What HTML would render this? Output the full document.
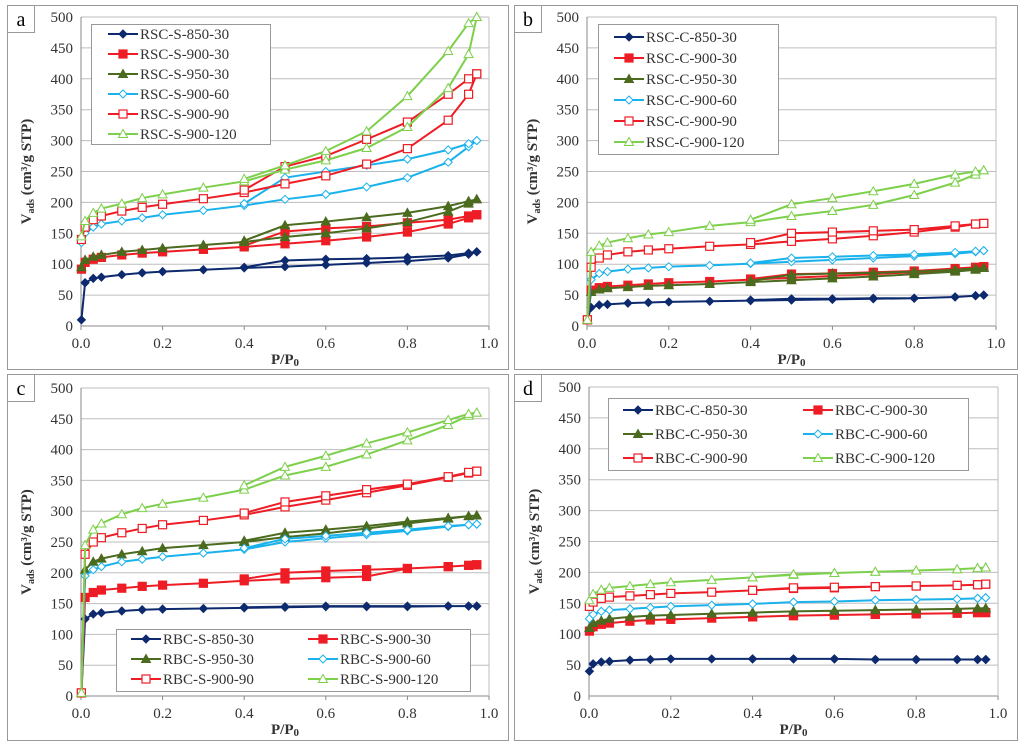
<!DOCTYPE html>
<html><head><meta charset="utf-8"><style>
body{margin:0;background:#fff;}
svg text{font-family:"Liberation Serif",serif;}
</style></head><body>
<svg id="fig" width="1024" height="747" xmlns="http://www.w3.org/2000/svg"></svg>
<script>
const xAds=[0.001,0.01,0.03,0.05,0.1,0.15,0.2,0.3,0.4,0.5,0.6,0.7,0.8,0.9,0.95,0.97];
const xDes=[0.97,0.95,0.9,0.8,0.7,0.6,0.5,0.4];
const yTicks=[0,50,100,150,200,250,300,350,400,450,500];
const xTicks=[0,0.2,0.4,0.6,0.8,1.0];
const xTickLabels=["0.0","0.2","0.4","0.6","0.8","1.0"];
const namesA=["RSC-S-850-30","RSC-S-900-30","RSC-S-950-30","RSC-S-900-60","RSC-S-900-90","RSC-S-900-120"];
const namesB=["RSC-C-850-30","RSC-C-900-30","RSC-C-950-30","RSC-C-900-60","RSC-C-900-90","RSC-C-900-120"];
const namesC=["RBC-S-850-30","RBC-S-900-30","RBC-S-950-30","RBC-S-900-60","RBC-S-900-90","RBC-S-900-120"];
const namesD=["RBC-C-850-30","RBC-C-900-30","RBC-C-950-30","RBC-C-900-60","RBC-C-900-90","RBC-C-900-120"];
const adsA=[[10,70,77,79,83,86,88,91,94,96,99,102,105,110,116,120],[92,103,108,111,115,118,120,124,128,133,138,144,152,165,175,180],[95,107,112,115,120,123,126,131,136,144,150,158,168,185,198,205],[135,150,160,165,170,175,180,187,195,205,213,225,240,265,290,300],[140,160,172,178,186,192,197,206,216,230,243,262,287,333,375,408],[145,170,183,190,198,207,213,224,234,253,268,288,322,385,440,500]];
const desA=[[120,118,114,111,109,108,106,95],[180,178,172,167,161,158,153,130],[205,202,194,183,176,169,163,138],[300,295,285,270,260,250,240,198],[408,400,375,330,302,275,258,220],[500,490,445,372,315,283,260,238]];
const adsB=[[10,30,34,35,37,38,39,40,41,42,43,44,45,47,49,50],[10,58,62,64,66,68,70,72,75,78,81,84,87,90,93,96],[10,55,59,61,63,65,66,68,71,74,77,80,84,88,91,94],[10,75,85,88,92,94,96,98,101,104,107,110,113,117,120,122],[10,95,110,115,120,123,125,129,132,137,141,146,152,160,165,166],[10,120,130,135,142,148,152,162,168,178,186,196,212,232,245,252]];
const desB=[[50,49,47,45,45,44,44,42],[96,95,93,89,87,85,84,76],[94,93,91,88,86,85,83,73],[122,121,119,116,114,112,110,102],[166,165,162,156,154,152,150,135],[252,250,245,230,218,207,197,172]];
const adsC=[[5,125,133,135,138,140,141,142,143,144,145,145,145,146,146,146],[5,160,168,172,175,178,180,183,187,190,192,194,207,210,212,213],[5,205,218,223,230,235,240,245,250,258,264,272,280,288,292,293],[5,195,205,210,218,222,226,232,238,250,256,262,268,275,278,279],[5,230,250,257,265,272,278,285,294,307,318,330,342,355,362,365],[5,245,270,280,295,305,312,322,335,358,372,392,415,440,455,460]];
const desC=[[146,146,146,146,146,146,145,144],[213,212,210,207,205,203,200,190],[293,292,289,283,276,270,265,252],[279,278,276,270,265,260,255,240],[365,363,356,344,335,325,315,297],[460,458,448,428,410,390,372,342]];
const adsD=[[40,52,55,56,58,59,60,60,60,60,60,59,59,59,59,59],[105,112,116,118,121,123,124,126,128,130,131,132,133,134,135,135],[110,118,122,125,128,130,131,133,135,137,138,139,140,141,142,142],[125,132,137,139,141,143,145,147,149,152,153,155,156,157,158,159],[145,152,158,160,162,164,166,168,171,174,175,177,178,179,180,181],[155,165,172,175,178,181,184,188,192,196,199,201,203,205,207,208]];
const desD=[[59,59,59,59,59,60,60,60],[135,135,134,133,132,131,130,128],[142,142,141,140,139,138,137,135],[159,158,157,156,155,153,152,149],[181,180,179,178,177,176,175,171],[208,207,205,203,201,199,197,192]];

const colors=["#0d2a6e","#ee1c24","#4b6b1f","#19b2ec","#ee1c24","#7dd04c"];
const markers=["diamondF","squareF","triF","diamondO","squareO","triO"];
const NS="http://www.w3.org/2000/svg";
const svg=document.getElementById('fig');
function mk(tag,attrs,parent){const e=document.createElementNS(NS,tag);for(const k in attrs)e.setAttribute(k,attrs[k]);(parent||svg).appendChild(e);return e;}
function marker(g,type,x,y,c){
  const f=type.endsWith('F')?c:'#fff';let e;
  if(type.startsWith('diamond'))e=mk('polygon',{points:`${x},${y-4} ${x+4},${y} ${x},${y+4} ${x-4},${y}`,fill:f,stroke:c,'stroke-width':1},g);
  else if(type.startsWith('square'))e=mk('rect',{x:x-4,y:y-4,width:8,height:8,fill:f,stroke:c,'stroke-width':1.2},g);
  else e=mk('polygon',{points:`${x},${y-4.5} ${x+4.5},${y+3.5} ${x-4.5},${y+3.5}`,fill:f,stroke:c,'stroke-width':1},g);
  
  
}
const panels=[
 {id:'a',box:[7,5,501,364],x0:81,x1:489,yT:17,yB:326,names:namesA,ads:adsA,des:desA,leg:{type:'col',box:[91,24,179,120],x:108,y:34,dy:20}},
 {id:'b',box:[514,5,503,364],x0:587,x1:996,yT:17,yB:326,names:namesB,ads:adsB,des:desB,leg:{type:'col',box:[598,24,180,130],x:614,y:37,dy:21}},
 {id:'c',box:[7,374,501,366],x0:81,x1:489,yT:388,yB:696,names:namesC,ads:adsC,des:desC,leg:{type:'grid',box:[116,629,354,62],x:131,x2:308,y:639,dy:20}},
 {id:'d',box:[514,374,503,366],x0:589,x1:998,yT:387,yB:696,names:namesD,ads:adsD,des:desD,leg:{type:'grid',box:[608,398,360,72],x:623,x2:803,y:410,dy:24}}
];
panels.forEach(p=>{
  const g=mk('g',{});
  
  
  const [bx,by,bw,bh]=p.box;
  mk('rect',{x:bx+0.5,y:by+0.5,width:bw,height:bh,fill:'#fff',stroke:'#999','stroke-width':1},g);
  const lb=mk('rect',{x:bx+0.5,y:by+0.5,width:27,height:27,fill:'#fff',stroke:'#999'},g);
  const lt=mk('text',{x:bx+14,y:by+21,'font-size':20,'text-anchor':'middle',fill:'#000'},g);lt.textContent=p.id;
  
  const sx=v=>p.x0+v*(p.x1-p.x0), sy=v=>p.yB-v/500*(p.yB-p.yT);
  yTicks.forEach(t=>{
    const l=mk('line',{x1:p.x0,x2:p.x1,y1:sy(t),y2:sy(t),stroke:t===0?'#888':'#bdbdbd','stroke-width':1},g);
    
    
    const tx=mk('text',{x:p.x0-8,y:sy(t)+5,'font-size':15,'text-anchor':'end',fill:'#333'},g);tx.textContent=t;
    
    
  });
  mk('line',{x1:p.x0,x2:p.x0,y1:p.yT,y2:p.yB,stroke:'#888'},g);
  mk('line',{x1:p.x1,x2:p.x1,y1:p.yT,y2:p.yB,stroke:'#bdbdbd'},g);
  xTicks.forEach((t,i)=>{
    mk('line',{x1:sx(t),x2:sx(t),y1:p.yB,y2:p.yB+4,stroke:'#888'},g);
    const tx=mk('text',{x:sx(t),y:p.yB+22,'font-size':15,'text-anchor':'middle',fill:'#333'},g);tx.textContent=xTickLabels[i];
    
    
  });
  const xt=mk('text',{x:(p.x0+p.x1)/2,y:p.yB+38,'font-size':15,'font-weight':'bold','text-anchor':'middle',fill:'#333'},g);
  xt.innerHTML='P/P<tspan font-size="11" dy="2">0</tspan>';
  
  const cy=(p.yT+p.yB)/2;
  const yt=mk('text',{x:0,y:0,transform:`translate(${p.x0-50},${cy}) rotate(-90)`,'font-size':15,'font-weight':'bold','text-anchor':'middle',fill:'#333'},g);
  yt.innerHTML='V<tspan font-size="10" dy="3">ads</tspan><tspan dy="-3"> (cm³/g STP)</tspan>';
  
  p.ads.forEach((arr,si)=>{
    const sg=mk('g',{},g);
    
    
    const pts=arr.map((v,i)=>[sx(xAds[i]),sy(v)]).concat(p.des[si].map((v,i)=>[sx(xDes[i]),sy(v)]));
    const path=mk('polyline',{points:pts.map(q=>q.join(',')).join(' '),fill:'none',stroke:colors[si],'stroke-width':2},sg);
    
    
    pts.forEach(q=>marker(sg,markers[si],q[0],q[1],colors[si]));
  });
  const L=p.leg;const lg=mk('g',{},g);
  
  
  mk('rect',{x:L.box[0]+0.5,y:L.box[1]+0.5,width:L.box[2],height:L.box[3],fill:'#fff',stroke:'#999'},lg);
  p.names.forEach((n,i)=>{
    let lx,ly;
    if(L.type==='col'){lx=L.x;ly=L.y+i*L.dy;}else{lx=i%2?L.x2:L.x;ly=L.y+Math.floor(i/2)*L.dy;}
    const eg=mk('g',{},lg);
    
    
    mk('line',{x1:lx,x2:lx+30,y1:ly,y2:ly,stroke:colors[i],'stroke-width':2},eg);
    marker(eg,markers[i],lx+15,ly,colors[i]);
    const t=mk('text',{x:lx+32,y:ly+5,'font-size':15,fill:'#333'},eg);t.textContent=n;
  });
});
</script>
</body></html>
